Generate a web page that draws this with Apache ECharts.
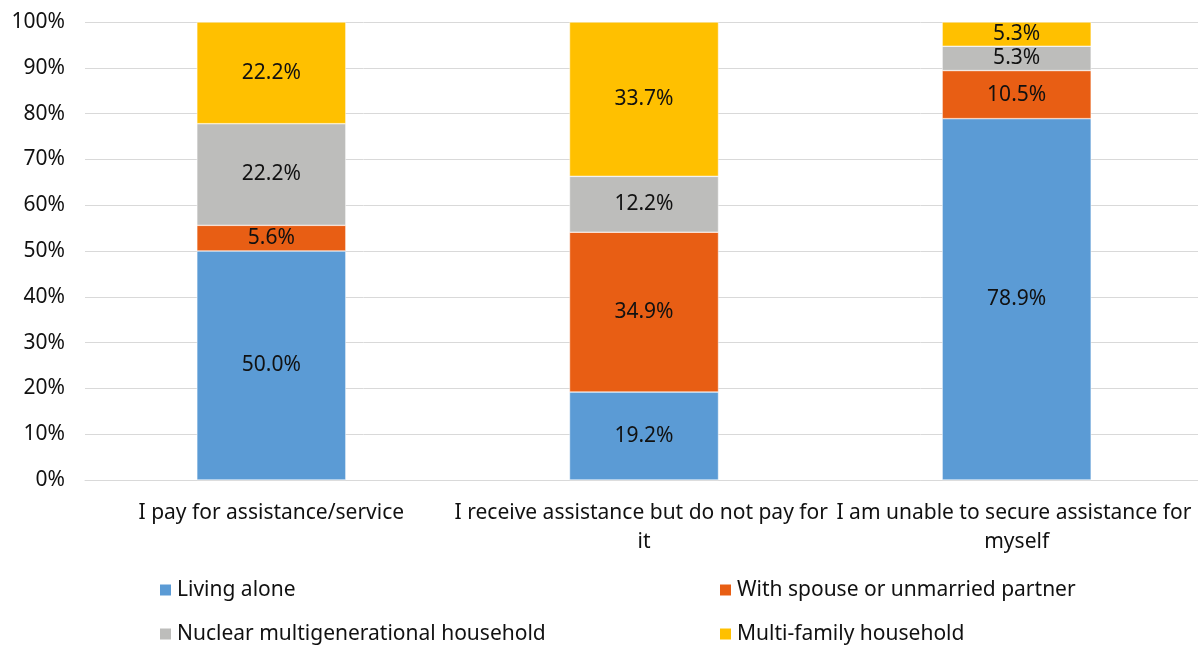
<!DOCTYPE html>
<html>
<head>
<meta charset="utf-8">
<script src="https://cdn.jsdelivr.net/npm/echarts@6/dist/echarts.min.js"></script>
<style>
  html, body { margin: 0; padding: 0; background: #fff; }
  #chart { width: 1198px; height: 648px; }
</style>
</head>
<body>
<div id="chart"></div>
<script>
// Household arrangement shares (%) by type of assistance
const categories = [
  'I pay for assistance/service',
  'I receive assistance but do not pay for it',
  'I am unable to secure assistance for myself'
];
const livingAlone = [50.0, 19.2, 78.9];
const withSpouse = [5.6, 34.9, 10.5];
const nuclearMultigen = [22.2, 12.2, 5.3];
const multiFamily = [22.2, 33.7, 5.3];

const seriesNames = [
  'Living alone',
  'With spouse or unmarried partner',
  'Nuclear multigenerational household',
  'Multi-family household'
];
const seriesData = [livingAlone, withSpouse, nuclearMultigen, multiFamily];
const colors = ['#5B9BD5', '#E85E14', '#BDBDBB', '#FFC000'];

const FONT = 'Noto Sans';
const FS = 21;
const TEXT = '#111';

// Legend laid out as a 2x2 grid: one legend block per entry
const legendSlots = [
  { left: 158, top: 578 },  // Living alone
  { left: 718, top: 578 },  // With spouse or unmarried partner
  { left: 158, top: 622 },  // Nuclear multigenerational household
  { left: 718, top: 622 }   // Multi-family household
];

const chart = echarts.init(document.getElementById('chart'));
chart.setOption({
  animation: false,
  color: colors,
  textStyle: { fontFamily: FONT },
  grid: { left: 85, top: 22, bottom: 168, width: 1118, outerBoundsMode: 'none', containLabel: false },
  xAxis: {
    type: 'category',
    data: categories,
    axisLine: { show: true, lineStyle: { color: '#D9D9D9', width: 1 } },
    axisTick: { show: false },
    axisLabel: {
      color: TEXT,
      fontSize: FS,
      fontFamily: FONT,
      margin: 19,
      width: 380,
      overflow: 'break',
      lineHeight: 29,
      interval: 0
    }
  },
  yAxis: {
    type: 'value',
    min: 0,
    max: 100,
    interval: 10,
    axisLine: { show: false },
    axisTick: { show: false },
    splitLine: { lineStyle: { color: '#D9D9D9', width: 1 } },
    axisLabel: {
      color: TEXT,
      fontSize: FS,
      fontFamily: FONT,
      margin: 20,
      formatter: v => v + '%'
    }
  },
  legend: seriesNames.map((name, i) => ({
    data: [name],
    left: legendSlots[i].left,
    top: legendSlots[i].top,
    padding: 0,
    itemWidth: 13,
    itemHeight: 13,
    icon: 'rect',
    textStyle: { fontSize: FS, color: TEXT, fontFamily: FONT, lineHeight: 24 }
  })),
  series: seriesNames.map((name, i) => ({
    name: name,
    type: 'bar',
    stack: 'total',
    barWidth: 149,
    data: seriesData[i],
    itemStyle: { borderColor: '#fff', borderWidth: 0.5 },
    label: {
      show: true,
      position: 'inside',
      color: TEXT,
      fontSize: FS,
      fontFamily: FONT,
      formatter: p => p.value.toFixed(1) + '%'
    }
  }))
});
</script>
</body>
</html>
